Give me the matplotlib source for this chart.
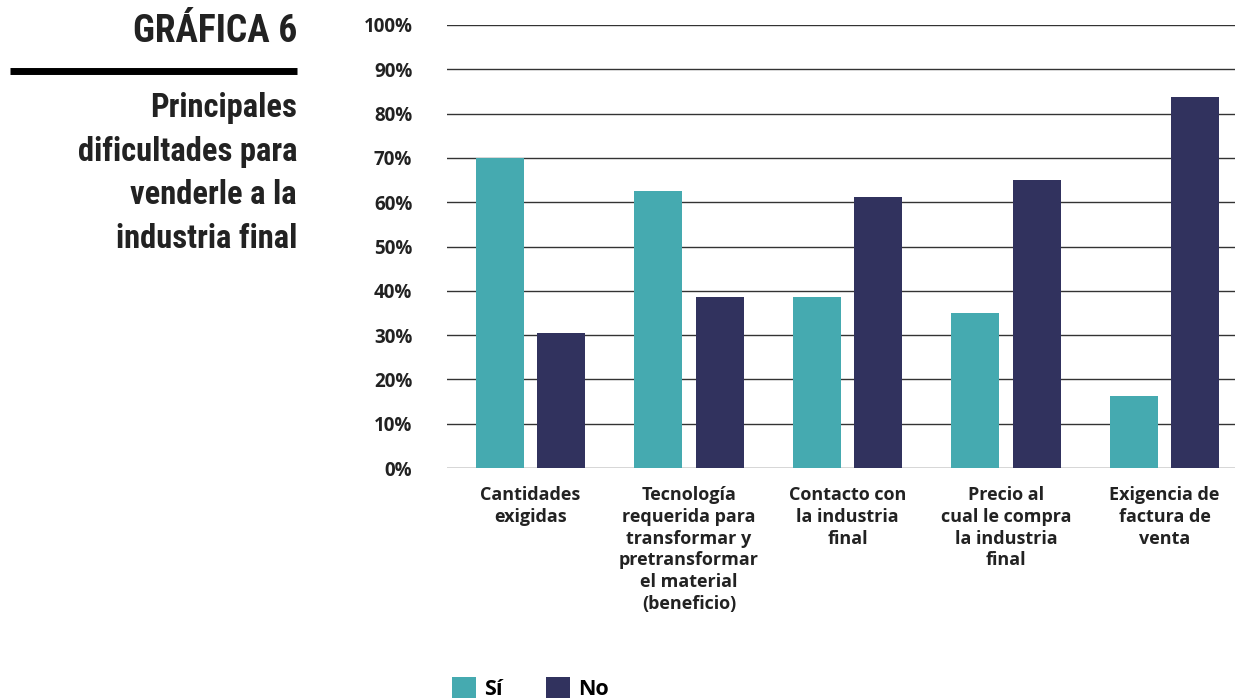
# -*- coding: utf-8 -*-
import matplotlib.pyplot as plt
import numpy as np

categorias = ['Cantidades\nexigidas',
              'Tecnología\nrequerida para\ntransformar y\npretransformar\nel material\n(beneficio)',
              'Contacto con\nla industria\nfinal',
              'Precio al\ncual le compra\nla industria\nfinal',
              'Exigencia de\nfactura de\nventa']
si = [70.0, 62.6, 38.5, 35.1, 16.3]
no = [30.5, 38.5, 61.2, 65.1, 83.8]
ticks = [0, 10, 20, 30, 40, 50, 60, 70, 80, 90, 100]

c_si = '#45aab0'
c_no = '#31325e'
f_num = ['Open Sans', 'DejaVu Sans']
f_tit = ['Roboto Condensed', 'Liberation Sans Narrow', 'Roboto', 'DejaVu Sans']

fig = plt.figure(figsize=(12.35, 7), dpi=100)
ax = fig.add_axes([0.362, 0.3314, 0.638, 0.6329])

x = np.arange(len(categorias))
w = 0.303
b1 = ax.bar(x - 0.194, si, w, color=c_si, label='Sí', zorder=3)
b2 = ax.bar(x + 0.194, no, w, color=c_no, label='No', zorder=3)

ax.set_xlim(-0.527, 4.445)
ax.set_ylim(0, 100)
ax.set_yticks(ticks)
ax.set_yticklabels([str(t) + '%' for t in ticks], fontsize=13.5,
                   fontweight='bold', family=f_num, color='#222222')
ax.set_xticks(x)
ax.set_xticklabels(categorias, fontsize=13, fontweight='bold',
                   family=f_num, color='#222222', linespacing=1.27)
ax.tick_params(axis='both', length=0)
ax.tick_params(axis='y', pad=25)
ax.tick_params(axis='x', pad=13)
ax.grid(axis='y', color='#333333', linewidth=1, zorder=0)
for s in ax.spines.values():
    s.set_visible(False)

leg = ax.legend(handles=[b1, b2], ncol=2, loc='center left',
                bbox_to_anchor=(0.357, 0.017), bbox_transform=fig.transFigure,
                frameon=False, handlelength=1.15, handleheight=1.15,
                handletextpad=0.35, columnspacing=2.0, borderpad=0,
                prop={'family': f_num, 'weight': 'bold', 'size': 15.5})

# titulo a la izquierda
fig.text(0.2405, 0.955, 'GRÁFICA 6', ha='right', va='center',
         fontsize=27, fontweight='bold', family=f_tit, color='#222222')
fig.add_artist(plt.Line2D([0.008, 0.2405], [0.899, 0.899],
                          color='black', linewidth=5, solid_capstyle='butt'))
sub = ['Principales', 'dificultades para', 'venderle a la', 'industria final']
for i, t in enumerate(sub):
    fig.text(0.2405, 0.846 - i * 0.0625, t, ha='right', va='center',
             fontsize=23.5, fontweight='bold', family=f_tit, color='#222222')

plt.savefig('out.png', dpi=100)
